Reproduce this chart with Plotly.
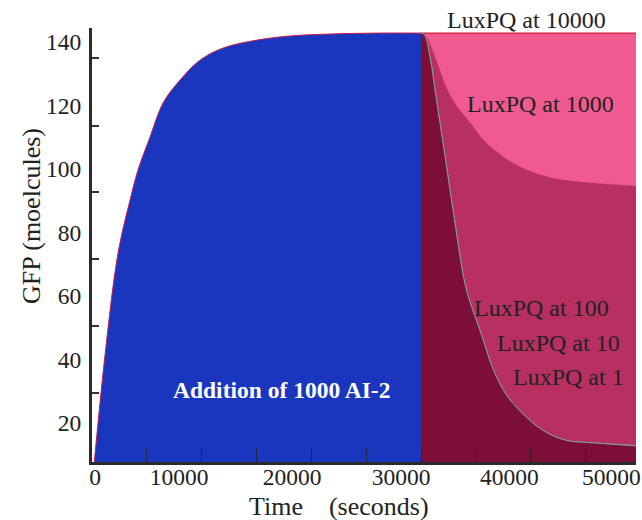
import plotly.graph_objects as go

# ---------------- data ----------------
# rise after addition of 1000 AI-2
rise_t = [0, 1186, 2372, 3467, 4197, 5292, 6478, 8029, 9854, 11953, 15055, 18066, 21715, 26000, 30000]
rise_v = [0, 41.4, 73.5, 90.2, 99.7, 110.1, 120.8, 128.0, 134.3, 138.1, 140.6, 141.9, 142.5, 142.8, 142.8]

# decay curves after t = 30000
lux10000_t = [30000, 35000, 40000, 45000, 49600]
lux10000_v = [142.8, 142.8, 142.8, 142.8, 142.8]

lux1000_t = [30000, 30383, 31296, 32391, 33303, 34489, 35675, 37500, 39051, 40876, 42974, 45438, 49600]
lux1000_v = [142.8, 142.2, 134.9, 124.9, 119.5, 114.5, 109.1, 103.8, 100.6, 98.1, 96.5, 95.6, 94.6]

lux100_t = [30000, 30300, 30839, 31296, 31752, 32208, 32664, 33120, 33577, 33900, 34250, 34672, 35584, 36496, 37682, 39234, 41058, 43157, 45894, 49600]
lux100_v = [142.8, 142.4, 134.9, 124.3, 113.9, 103.5, 92.8, 82.4, 72.0, 65.5, 60.5, 56.0, 47.1, 37.6, 29.4, 23.1, 17.8, 14.6, 13.7, 12.8]
lux10_t = list(lux100_t)
lux10_v = [142.8, 142.4, 134.9, 124.3, 113.9, 103.5, 92.8, 82.4, 72.0, 65.5, 60.5, 56.0, 47.1, 37.6, 29.4, 23.1, 17.8, 14.6, 13.7, 12.9]
lux1_t = list(lux100_t)
lux1_v = [142.8, 142.4, 134.9, 124.3, 113.9, 103.5, 92.8, 82.4, 72.0, 65.5, 60.5, 56.0, 47.1, 37.6, 29.4, 23.1, 17.8, 14.6, 13.7, 12.8]

# tick labels
x_tick_text = ["0", "10000", "20000", "30000", "40000", "50000"]
x_tick_pos = [274, 7938, 18248, 28193, 38047, 47354]
x_minor_ticks = [5000, 10000, 15000, 20000, 25000, 30000, 35000, 40000, 45000]
y_tick_vals = [20, 40, 60, 80, 100, 120, 140]
y_minor_ticks = [29.4, 50.7, 71.5, 92.6, 113.5, 134.9]

FONT = "Liberation Serif, Times New Roman, serif"
BLUE = "#1a36bf"
PINK = "#f05a91"
RASP = "#b73061"
MAROON = "#7c0e37"
text_color = "#222222"

W, H = 642, 520
L, T = 92, 28
R = W - 636
B = H - 462
pw, ph = W - L - R, H - T - B


def px(xp):
    return (xp - L) / pw


def py(yp):
    return 1 - (yp - T) / ph


fig = go.Figure()
SM = 1.0
fig.add_trace(go.Scatter(x=rise_t, y=rise_v, mode="lines", fill="tozeroy",
                         fillcolor=BLUE, line=dict(color="#c8204a", width=1, shape="spline", smoothing=SM),
                         showlegend=False, hoverinfo="skip"))
fig.add_trace(go.Scatter(x=lux10000_t, y=lux10000_v, mode="lines", fill="tozeroy",
                         fillcolor=PINK, line=dict(color="#c8203a", width=1.2),
                         showlegend=False, hoverinfo="skip"))
fig.add_trace(go.Scatter(x=lux1000_t, y=lux1000_v, mode="lines", fill="tozeroy",
                         fillcolor=RASP, line=dict(color=RASP, width=0.5, shape="spline", smoothing=SM),
                         showlegend=False, hoverinfo="skip"))
fig.add_trace(go.Scatter(x=lux100_t, y=lux100_v, mode="lines", fill="tozeroy",
                         fillcolor=MAROON, line=dict(color="#3c9a6a", width=1, shape="spline", smoothing=SM),
                         showlegend=False, hoverinfo="skip"))
fig.add_trace(go.Scatter(x=lux10_t, y=lux10_v, mode="lines", fill="tozeroy",
                         fillcolor=MAROON, line=dict(color="#6aa08a", width=1, shape="spline", smoothing=SM),
                         showlegend=False, hoverinfo="skip"))
fig.add_trace(go.Scatter(x=lux1_t, y=lux1_v, mode="lines", fill="tozeroy",
                         fillcolor=MAROON, line=dict(color="#8a9a98", width=1, shape="spline", smoothing=SM),
                         showlegend=False, hoverinfo="skip"))

ann = []
ann.append(dict(x=px(281), y=py(390), xref="paper", yref="paper", text="<b>Addition of 1000 AI-2</b>",
                showarrow=False, font=dict(family=FONT, size=23.5, color="white")))
labels = [("LuxPQ at 10000", 526, 20), ("LuxPQ at 1000", 540, 104),
          ("LuxPQ at 100", 541, 308), ("LuxPQ at 10", 558, 343), ("LuxPQ at 1", 568, 377)]
for txt, xp, yp in labels:
    ann.append(dict(x=px(xp), y=py(yp), xref="paper", yref="paper", text=txt, showarrow=False,
                    font=dict(family=FONT, size=24, color=text_color)))
ann.append(dict(x=px(339), y=py(506), xref="paper", yref="paper",
                text="Time\u00a0\u00a0\u00a0\u00a0(seconds)",
                showarrow=False, font=dict(family=FONT, size=26, color=text_color)))
ann.append(dict(x=px(31), y=py(216), xref="paper", yref="paper", text="GFP (moelcules)",
                textangle=-90, showarrow=False, font=dict(family=FONT, size=26, color=text_color)))
for a in ann:
    a["xanchor"] = "center"
    a["yanchor"] = "middle"

fig.update_layout(
    width=W, height=H,
    margin=dict(l=L, r=R, t=T, b=B, autoexpand=False),
    paper_bgcolor="white", plot_bgcolor="white",
    annotations=ann,
    xaxis=dict(range=[0, 49600], showgrid=False, zeroline=False, automargin=False,
               showline=True, linecolor="#2a2a2a", linewidth=3,
               tickmode="array", tickvals=x_tick_pos, ticktext=x_tick_text, ticks="",
               ticklabelstandoff=-8,
               tickfont=dict(family=FONT, size=23.5, color=text_color),
               minor=dict(tickmode="array", tickvals=x_minor_ticks, ticks="inside", ticklen=14,
                          tickwidth=1, tickcolor="rgba(30,30,30,0.7)")),
    yaxis=dict(range=[7.72, 144.4], showgrid=False, zeroline=False, automargin=False,
               showline=True, linecolor="#2a2a2a", linewidth=3,
               tickmode="array", tickvals=y_tick_vals, ticks="",
               ticklabelstandoff=3,
               tickfont=dict(family=FONT, size=23.5, color=text_color),
               minor=dict(tickmode="array", tickvals=y_minor_ticks, ticks="inside", ticklen=7,
                          tickwidth=1.5, tickcolor="#333333")),
)

fig.write_html("out.html", config={"displayModeBar": False},
               post_script="document.body.style.margin='0';")
